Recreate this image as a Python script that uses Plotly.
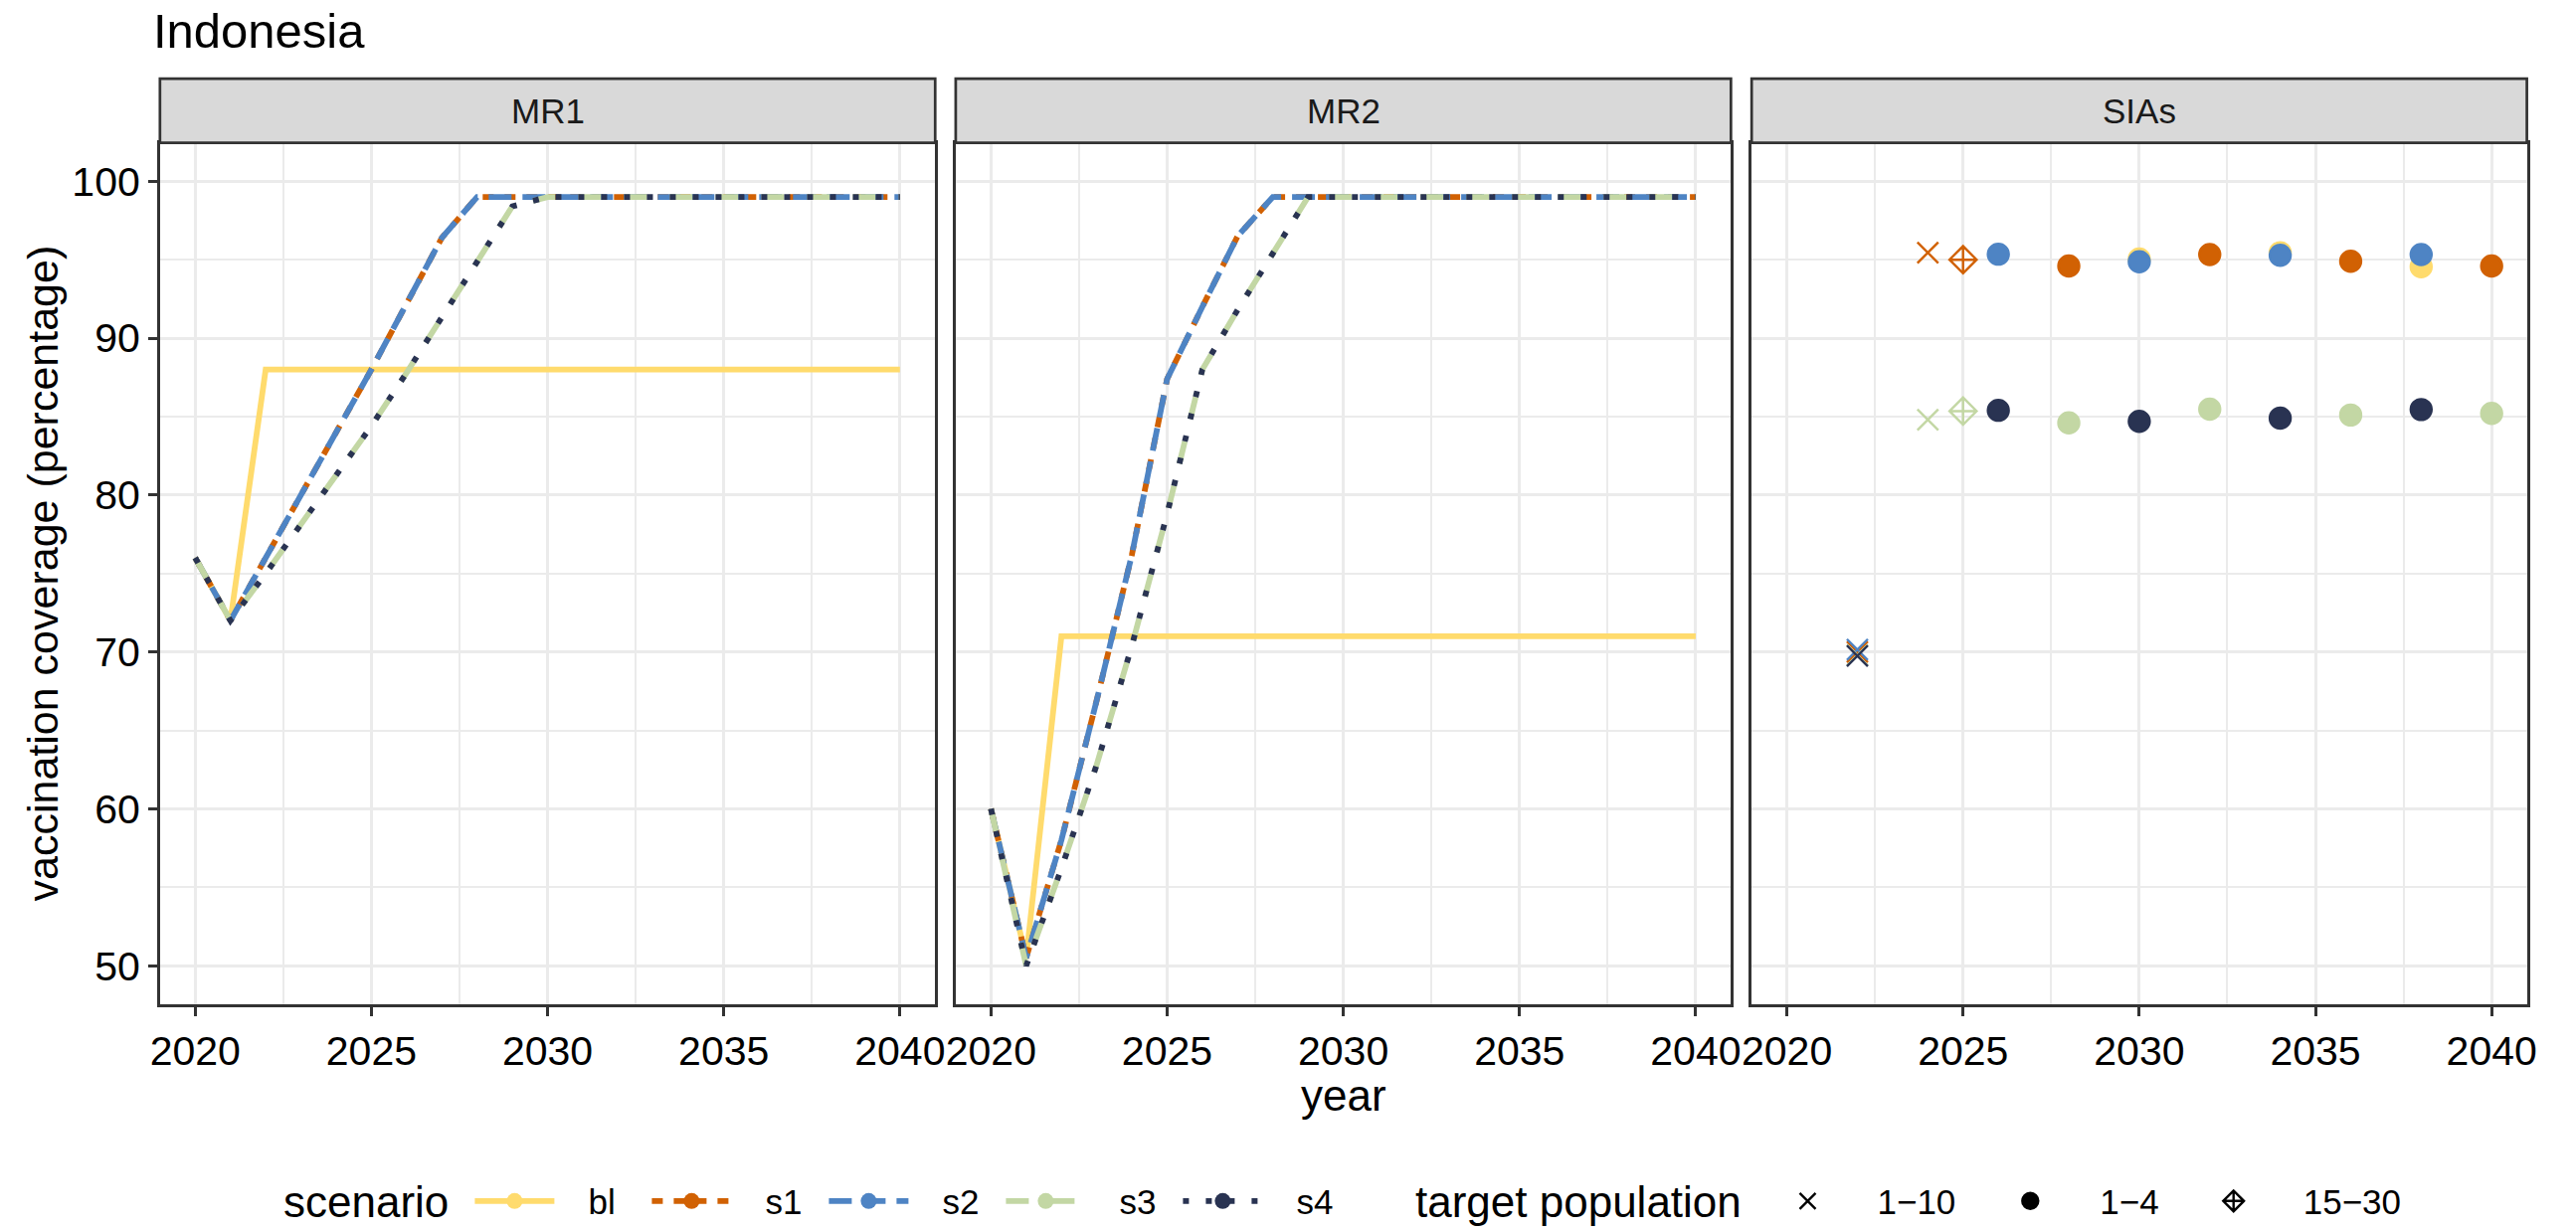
import plotly.graph_objects as go

W, H = 2590, 1238
FONT = "Liberation Sans"

# ---- data -------------------------------------------------------------
years = list(range(2020, 2041))

mr1_bl = [76, 72] + [88] * 19
mr1_s1 = [76, 72, 76, 80, 84, 88, 92.2, 96.4] + [99] * 13
mr1_s2 = [76, 72, 76, 80, 84, 88, 92.2, 96.4] + [99] * 13
mr1_s3 = [76, 72, 75, 78.1, 81.2, 84.4, 87.8, 91.3, 94.8, 98.4] + [99] * 11
mr1_s4 = [76, 72, 75, 78.1, 81.2, 84.4, 87.8, 91.3, 94.8, 98.4] + [99] * 11

mr2_bl = [60, 50.5] + [71] * 19
mr2_s1 = [60, 50.5, 58, 66.9, 76.2, 87.4, 92, 96.5] + [99] * 13
mr2_s2 = [60, 50.5, 58, 66.9, 76.2, 87.4, 92, 96.5] + [99] * 13
mr2_s3 = [60, 50, 56.2, 62.8, 70.4, 78.8, 88, 91.8, 95.4] + [99] * 12
mr2_s4 = [60, 50, 56.2, 62.8, 70.4, 78.8, 88, 91.8, 95.4] + [99] * 12

# supplementary immunisation activities
sia_scenario = ["bl", "bl", "bl",
                "s1", "s1", "s1", "s1", "s1", "s1", "s1",
                "s2", "s2", "s2", "s2", "s2",
                "s3", "s3", "s3", "s3", "s3", "s3", "s3",
                "s4", "s4", "s4", "s4", "s4"]
sia_year = [2030, 2034, 2038,
            2022, 2024, 2025, 2028, 2032, 2036, 2040,
            2022, 2026, 2030, 2034, 2038,
            2022, 2024, 2025, 2028, 2032, 2036, 2040,
            2022, 2026, 2030, 2034, 2038]
sia_value = [95.05, 95.45, 94.55,
             70.0, 95.45, 95.0, 94.6, 95.33, 94.9, 94.6,
             70.15, 95.35, 94.87, 95.28, 95.33,
             69.8, 84.8, 85.35, 84.6, 85.47, 85.1, 85.2,
             69.75, 85.4, 84.7, 84.9, 85.45]
sia_target = ["1-4", "1-4", "1-4",
              "1-10", "1-10", "15-30", "1-4", "1-4", "1-4", "1-4",
              "1-10", "1-4", "1-4", "1-4", "1-4",
              "1-10", "1-10", "15-30", "1-4", "1-4", "1-4", "1-4",
              "1-10", "1-4", "1-4", "1-4", "1-4"]

scenarios = ["bl", "s1", "s2", "s3", "s4"]
targets = ["1-10", "1-4", "15-30"]
target_labels = {"1-10": "1\u221210", "1-4": "1\u22124", "15-30": "15\u221230"}

# ---- styles -----------------------------------------------------------
colors = {"bl": "#FFDB6D", "s1": "#D16103", "s2": "#4E84C4",
          "s3": "#C3D7A4", "s4": "#293352"}
dashes = {"bl": "solid", "s1": "11px,11px", "s2": "23px,11px",
          "s3": "23px,23px", "s4": "6px,17px"}
symbols = {"1-10": "x-thin-open", "1-4": "circle", "15-30": "diamond-cross-open"}
LW = 5.8
MSIZE = 21
PAD = "\u00a0\u00a0\u00a0"  # gap between a legend key and its label

mr1 = {"bl": mr1_bl, "s1": mr1_s1, "s2": mr1_s2, "s3": mr1_s3, "s4": mr1_s4}
mr2 = {"bl": mr2_bl, "s1": mr2_s1, "s2": mr2_s2, "s3": mr2_s3, "s4": mr2_s4}

fig = go.Figure()

for sc in scenarios:
    fig.add_trace(go.Scatter(x=years, y=mr1[sc], mode="lines", xaxis="x", yaxis="y",
                             line=dict(color=colors[sc], width=LW, dash=dashes[sc]),
                             showlegend=False, hoverinfo="skip"))
for sc in scenarios:
    fig.add_trace(go.Scatter(x=years, y=mr2[sc], mode="lines", xaxis="x2", yaxis="y2",
                             line=dict(color=colors[sc], width=LW, dash=dashes[sc]),
                             showlegend=False, hoverinfo="skip"))

for sc in scenarios:
    for tg in targets:
        xs = [x for x, s, t in zip(sia_year, sia_scenario, sia_target) if s == sc and t == tg]
        ys = [v for v, s, t in zip(sia_value, sia_scenario, sia_target) if s == sc and t == tg]
        if not xs:
            continue
        fig.add_trace(go.Scatter(x=xs, y=ys, mode="markers", xaxis="x3", yaxis="y3",
                                 marker=dict(symbol=symbols[tg], size=MSIZE, color=colors[sc],
                                             line=dict(width=2.4, color=colors[sc])),
                                 showlegend=False, hoverinfo="skip"))

# legend entries
for sc in scenarios:
    fig.add_trace(go.Scatter(x=[None], y=[None], mode="lines+markers", name=PAD + sc,
                             xaxis="x", yaxis="y", legend="legend",
                             line=dict(color=colors[sc], width=LW, dash=dashes[sc]),
                             marker=dict(symbol="circle", size=20, color=colors[sc])))
for tg in targets:
    fig.add_trace(go.Scatter(x=[None], y=[None], mode="markers", name=target_labels[tg],
                             xaxis="x", yaxis="y", legend="legend2",
                             marker=dict(symbol=symbols[tg], size=MSIZE, color="black",
                                         line=dict(width=2.4, color="black"))))

# ---- layout -----------------------------------------------------------
def px_x(p):
    return p / W

def px_y(p):
    return 1 - p / H

panels = [(152, 937.5), (958.3, 1743.8), (1764.8, 2550.3)]
plot_top, plot_bottom = 144.0, 1012.3
strip_top = 79.3
ydom = [px_y(plot_bottom), px_y(plot_top)]
legend_y = 1211

grid = dict(showgrid=True, gridcolor="#EBEBEB", gridwidth=3.2, zeroline=False,
            showline=True, mirror=True, linecolor="#333333", linewidth=2.7,
            tickfont=dict(family=FONT, size=41, color="black"))

layout = dict(width=W, height=H, margin=dict(l=0, r=0, t=0, b=0),
              paper_bgcolor="white", plot_bgcolor="white",
              font=dict(family=FONT, color="black"))

for i, (l, r) in enumerate(panels):
    sfx = "" if i == 0 else str(i + 1)
    layout["xaxis" + sfx] = dict(domain=[px_x(l), px_x(r)], anchor="y" + sfx,
                                 range=[2019, 2041], tickmode="linear", tick0=2020, dtick=5,
                                 ticks="outside", ticklen=9, tickwidth=2.7, tickcolor="#333333",
                                 minor=dict(dtick=2.5, tick0=2020, showgrid=True,
                                            gridcolor="#EBEBEB", gridwidth=1.6, ticks=""),
                                 **grid)
    yax = dict(domain=ydom, anchor="x" + sfx, range=[47.55, 102.45],
               tickmode="linear", tick0=50, dtick=10,
               minor=dict(dtick=5, tick0=50, showgrid=True, gridcolor="#EBEBEB",
                          gridwidth=1.6, ticks=""),
               **grid)
    if i == 0:
        yax.update(ticks="outside", ticklen=9, tickwidth=2.7, tickcolor="#333333")
    else:
        yax.update(ticks="", showticklabels=False, matches="y")
    layout["yaxis" + sfx] = yax

shapes = []
annotations = []
strip_labels = ["MR1", "MR2", "SIAs"]
for (l, r), lab in zip(panels, strip_labels):
    shapes.append(dict(type="rect", xref="paper", yref="paper",
                       x0=px_x(l), x1=px_x(r), y0=px_y(plot_top), y1=px_y(strip_top),
                       fillcolor="#D9D9D9", line=dict(color="#333333", width=2.7),
                       layer="above"))
    annotations.append(dict(text=lab, xref="paper", yref="paper",
                            x=px_x((l + r) / 2), y=px_y((strip_top + plot_top) / 2),
                            xanchor="center", yanchor="middle", showarrow=False,
                            font=dict(family=FONT, size=35, color="#1A1A1A")))

annotations.append(dict(text="Indonesia", xref="paper", yref="paper",
                        x=px_x(143), y=px_y(31), xanchor="left", yanchor="middle",
                        showarrow=False, font=dict(family=FONT, size=49, color="black")))
annotations.append(dict(text="vaccination coverage (percentage)", xref="paper", yref="paper",
                        x=px_x(33), y=px_y((plot_top + plot_bottom) / 2), textangle=-90,
                        xanchor="center", yanchor="middle", showarrow=False,
                        font=dict(family=FONT, size=43, color="black")))
annotations.append(dict(text="year", xref="paper", yref="paper",
                        x=px_x((panels[1][0] + panels[1][1]) / 2), y=px_y(1104),
                        xanchor="center", yanchor="middle", showarrow=False,
                        font=dict(family=FONT, size=44, color="black")))
# legend titles
annotations.append(dict(text="scenario", xref="paper", yref="paper",
                        x=px_x(275), y=px_y(legend_y), xanchor="left", yanchor="middle",
                        showarrow=False, font=dict(family=FONT, size=44, color="black")))
annotations.append(dict(text="target population", xref="paper", yref="paper",
                        x=px_x(1422), y=px_y(legend_y), xanchor="left", yanchor="middle",
                        showarrow=False, font=dict(family=FONT, size=44, color="black")))

layout["shapes"] = shapes
layout["annotations"] = annotations

layout["legend"] = dict(orientation="h", x=px_x(466), xanchor="left",
                        y=px_y(legend_y), yanchor="middle",
                        font=dict(family=FONT, size=35, color="black"),
                        itemwidth=80, entrywidth=83, entrywidthmode="pixels",
                        bgcolor="rgba(0,0,0,0)", traceorder="normal")
layout["legend2"] = dict(orientation="h", x=px_x(1751), xanchor="left",
                         y=px_y(legend_y), yanchor="middle",
                         font=dict(family=FONT, size=35, color="black"),
                         itemwidth=130, bgcolor="rgba(0,0,0,0)", traceorder="normal")

fig.update_layout(**layout)
fig.write_html("out.html")
